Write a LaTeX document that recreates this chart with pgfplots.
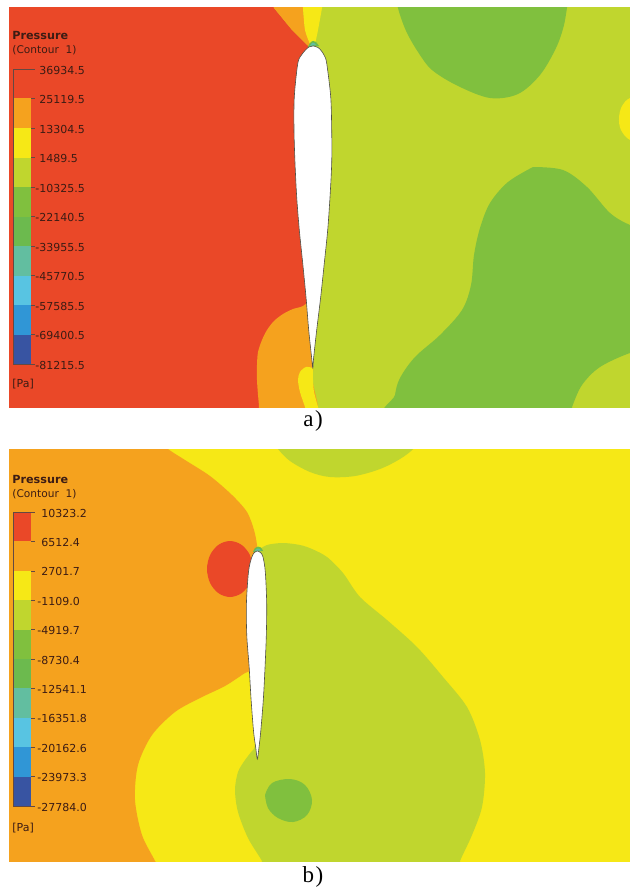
\documentclass[border=0pt]{standalone}
\usepackage{pgfplots}
\pgfplotsset{compat=1.18}
\usepackage{fontspec}
\setmainfont{Liberation Serif}
\newfontfamily\cfx{DejaVu Sans}

\definecolor{cred}{RGB}{234,72,40}
\definecolor{corange}{RGB}{245,162,30}
\definecolor{cyellow}{RGB}{246,232,22}
\definecolor{cyg}{RGB}{192,214,46}
\definecolor{cgreen}{RGB}{128,192,62}
\definecolor{cgreen2}{RGB}{108,186,78}
\definecolor{cteal}{RGB}{98,190,160}
\definecolor{clblue}{RGB}{88,196,226}
\definecolor{cblue}{RGB}{48,150,214}
\definecolor{cdblue}{RGB}{56,84,162}
\definecolor{ctext}{RGB}{60,28,20}
\definecolor{cfoil}{RGB}{80,80,70}

\newcommand{\lbl}[3]{\node[anchor=west, inner sep=0pt, text=ctext, font=\cfx\fontsize{5.5}{6}\selectfont] at (axis cs:#1,#2) {#3};}
\newcommand{\seg}[3]{\addplot[fill=#1, draw=none] coordinates {(13,#2)(31,#2)(31,#3)(13,#3)};}

\begin{document}
\begin{tikzpicture}
\useasboundingbox (0pt,0pt) rectangle (315pt,-443.5pt);
\coordinate (PA) at (159.75pt,-103.75pt);
\coordinate (PB) at (159.75pt,-327.5pt);
\pgfplotsset{panel/.style={scale only axis, hide axis, y dir=reverse,
  xmin=9, xmax=630, width=310.5pt, anchor=center, clip=true}}

% ================= panel a =================
\begin{axis}[panel, ymin=8, ymax=407, height=199.5pt, at={(PA)}]
% background
\addplot[fill=cyg, draw=none] coordinates {(0,0)(640,0)(640,420)(0,420)};
% red left region
\addplot[fill=cred, draw=none] coordinates {(0,0)(270,0)(274,8)(292,30)(308,46)(313,150)(312,368)(312,420)(0,420)};
% orange lower-left arc region
\addplot[fill=corange, draw=none, smooth, tension=0.5] coordinates {
 (312,298)(303,306)(293,309)(283,314)(274,321)(267,330)(262,340)(258,352)(257,365)(257,380)(258,395)(259,407)(260,440)(320,440)(318,407)(313,383)(313,368)(312,330)};
% yellow tongue below trailing edge
\addplot[fill=cyellow, draw=none, smooth, tension=0.5] coordinates {
 (313,368)(306,367)(300,372)(298,380)(300,392)(305,407)(307,415)(320,415)(318,407)(314,392)(313,380)(313,368)};
% wedges above leading edge
\addplot[fill=corange, draw=none] coordinates {(270,0)(303,0)(303,8)(305,30)(310,44)(313,47)(307,45)(292,30)(274,8)};
\addplot[fill=cyellow, draw=none, smooth, tension=0.4] coordinates {(303,0)(303,8)(305,30)(310,44)(313,47)(315,44)(318,30)(322,8)(323,0)};
% leading edge suction blip
\addplot[fill=cgreen2, draw=none, smooth] coordinates {(308,47)(310,43)(313,41)(316,42)(319,46)};
\addplot[fill=cteal, draw=none, smooth] coordinates {(310,46)(312,43)(314,43)(316,45)};
% green blob top
\addplot[fill=cgreen, draw=none, smooth, tension=0.55] coordinates {
 (396,0)(400,15)(407,33)(418,52)(432,70)(458,86)(490,98)(518,94)(540,75)(556,48)(564,25)(568,0)};
% green big blob lower right
\addplot[fill=cgreen, draw=none, smooth, tension=0.55] coordinates {
 (533,167)(563,170)(587,187)(610,213)(630,225)(645,228)(645,352)(630,353)(600,367)(582,385)(572,407)(568,420)
 (393,420)(395,395)(400,378)(415,357)(440,335)(462,310)(471,285)(474,255)(480,228)(490,203)(508,182)(533,167)};
% yellow notch right edge
\addplot[fill=cyellow, draw=none, smooth, tension=0.6] coordinates {(645,96)(630,98)(622,106)(619,118)(621,130)(630,140)(645,142)};
% airfoil
\addplot[fill=white, draw=cfoil, line width=0.3pt, smooth, tension=0.5] coordinates {
 (313.3,46)(318,47.5)(321.5,51)(324.5,56)(326.7,63.3)(330.7,96.7)(331.7,130)(331.7,163)(330,197)(327.7,230)(324.3,263)(320.7,297)(316.7,330)(313.6,358)(312.8,368)
 (311.9,360)(308.7,330)(306,297)(302.7,263)(299.3,230)(296.7,197)(295,163)(294,130)(294.3,96.7)(297.8,63.3)(301.5,55)(305.5,50)(309,47)(313.3,46)};
% ---- legend ----
\node[anchor=west, inner sep=0pt, text=ctext, font=\cfx\bfseries\fontsize{5.6}{6}\selectfont] at (axis cs:12,35) {Pressure};
\node[anchor=west, inner sep=0pt, text=ctext, font=\cfx\fontsize{5.3}{6}\selectfont] at (axis cs:12,50) {(Contour\ \ 1)};
\seg{cred}{69}{98.5}
\seg{corange}{98.5}{128}
\seg{cyellow}{128}{157.5}
\seg{cyg}{157.5}{187}
\seg{cgreen}{187}{216.5}
\seg{cgreen2}{216.5}{246}
\seg{cteal}{246}{275.5}
\seg{clblue}{275.5}{305}
\seg{cblue}{305}{334.5}
\seg{cdblue}{334.5}{364}
\addplot[draw=ctext!80, line width=0.3pt] coordinates {(31,69)(13,69)(13,364)(31,364)};
\pgfplotsinvokeforeach{69,98.5,128,157.5,187,216.5,246,275.5,305,334.5,364}{
  \addplot[draw=ctext!80, line width=0.3pt] coordinates {(31,#1)(35,#1)};}
\lbl{39}{70}{36934.5}
\lbl{39}{99.5}{25119.5}
\lbl{39}{129}{13304.5}
\lbl{39}{158.5}{1489.5}
\lbl{39}{188}{\llap{-}10325.5}
\lbl{39}{217.5}{\llap{-}22140.5}
\lbl{39}{247}{\llap{-}33955.5}
\lbl{39}{276.5}{\llap{-}45770.5}
\lbl{39}{306}{\llap{-}57585.5}
\lbl{39}{335.5}{\llap{-}69400.5}
\lbl{39}{365}{\llap{-}81215.5}
\lbl{12}{384}{[Pa]}
\end{axis}

% ================= panel b =================
\begin{axis}[panel, ymin=449, ymax=861, height=206pt, at={(PB)}]
\addplot[fill=cyellow, draw=none] coordinates {(0,440)(640,440)(640,875)(0,875)};
% orange left region
\addplot[fill=corange, draw=none, smooth, tension=0.5] coordinates {
 (0,440)(160,440)(168,449)(185,460)(210,476)(232,495)(247,512)(254,530)(257,545)(258,560)(258,620)(258,665)
 (245,673)(225,686)(200,698)(175,712)(152,735)(138,765)(135,800)(142,835)(155,861)(160,875)(0,875)};
% red circle
\addplot[fill=cred, draw=none, smooth, tension=0.55] coordinates {
 (253,569)(249.9,583)(241.5,593.2)(230,597)(218.5,593.2)(210.1,583)(207,569)(210.1,555)(218.5,544.8)(230,541)(241.5,544.8)(249.9,555)(253,569)};
% pear (yellow-green)
\addplot[fill=cyg, draw=none, smooth, tension=0.5] coordinates {
 (257,551)(267,545)(283,543)(300,545)(312,549)(327,557)(343,573)(360,597)(387,620)(417,647)(443,677)(467,707)(480,740)(485,773)(482,807)(472,835)(460,861)(456,875)
 (268,875)(262,861)(248,838)(238,812)(235,790)(238,772)(245,760)(251,752)(255,744)(256,700)};
% green small blob
\addplot[fill=cgreen, draw=none, smooth, tension=0.6] coordinates {
 (265,795)(272,783)(290,779)(305,785)(312,800)(307,815)(293,822)(278,818)(268,808)(265,795)};
% top yellow-green blob
\addplot[fill=cyg, draw=none, smooth, tension=0.55] coordinates {
 (273,440)(278,449)(290,461)(310,472)(330,477)(355,476)(380,469)(400,459)(413,449)(416,440)};
% leading edge blip
\addplot[fill=cgreen2, draw=none, smooth] coordinates {(253,552)(255,548)(258,546.5)(261,547.5)(263,551)};
\addplot[fill=cteal, draw=none, smooth] coordinates {(255,551)(257,548.5)(259,548.5)(261,550.5)};
% airfoil
\addplot[fill=white, draw=cfoil, line width=0.3pt, smooth, tension=0.5] coordinates {
 (257.5,551)(260.5,552.5)(263,557)(265.3,571.8)(266.7,603.8)(266.3,635.8)(265,667.8)(263.3,699.8)(260.7,731.8)(258.9,748)(257.3,759)
 (255.8,748)(253.6,731.8)(251.1,699.8)(249.2,667.8)(246.8,635.8)(246.4,603.8)(248.5,571.8)(251.5,558)(254.3,552.5)(257.5,551)};
% ---- legend ----
\node[anchor=west, inner sep=0pt, text=ctext, font=\cfx\bfseries\fontsize{5.6}{6}\selectfont] at (axis cs:12,479) {Pressure};
\node[anchor=west, inner sep=0pt, text=ctext, font=\cfx\fontsize{5.3}{6}\selectfont] at (axis cs:12,494) {(Contour\ \ 1)};
\seg{cred}{512}{541.4}
\seg{corange}{541.4}{570.8}
\seg{cyellow}{570.8}{600.2}
\seg{cyg}{600.2}{629.6}
\seg{cgreen}{629.6}{659}
\seg{cgreen2}{659}{688.4}
\seg{cteal}{688.4}{717.8}
\seg{clblue}{717.8}{747.2}
\seg{cblue}{747.2}{776.6}
\seg{cdblue}{776.6}{806}
\addplot[draw=ctext!80, line width=0.3pt] coordinates {(31,512)(13,512)(13,806)(31,806)};
\pgfplotsinvokeforeach{512,541.4,570.8,600.2,629.6,659,688.4,717.8,747.2,776.6,806}{
  \addplot[draw=ctext!80, line width=0.3pt] coordinates {(31,#1)(35,#1)};}
\lbl{41}{513}{10323.2}
\lbl{41}{542.4}{6512.4}
\lbl{41}{571.8}{2701.7}
\lbl{41}{601.2}{\llap{-}1109.0}
\lbl{41}{630.6}{\llap{-}4919.7}
\lbl{41}{660}{\llap{-}8730.4}
\lbl{41}{689.4}{\llap{-}12541.1}
\lbl{41}{718.8}{\llap{-}16351.8}
\lbl{41}{748.2}{\llap{-}20162.6}
\lbl{41}{777.6}{\llap{-}23973.3}
\lbl{41}{807}{\llap{-}27784.0}
\lbl{12}{828}{[Pa]}
\end{axis}

\node[font=\fontsize{11.5}{13}\selectfont, inner sep=0pt] at (156.5pt,-210.5pt) {a\kern0.8pt)};
\node[font=\fontsize{11.5}{13}\selectfont, inner sep=0pt] at (156.5pt,-438.3pt) {b\kern0.8pt)};
\end{tikzpicture}
\end{document}
